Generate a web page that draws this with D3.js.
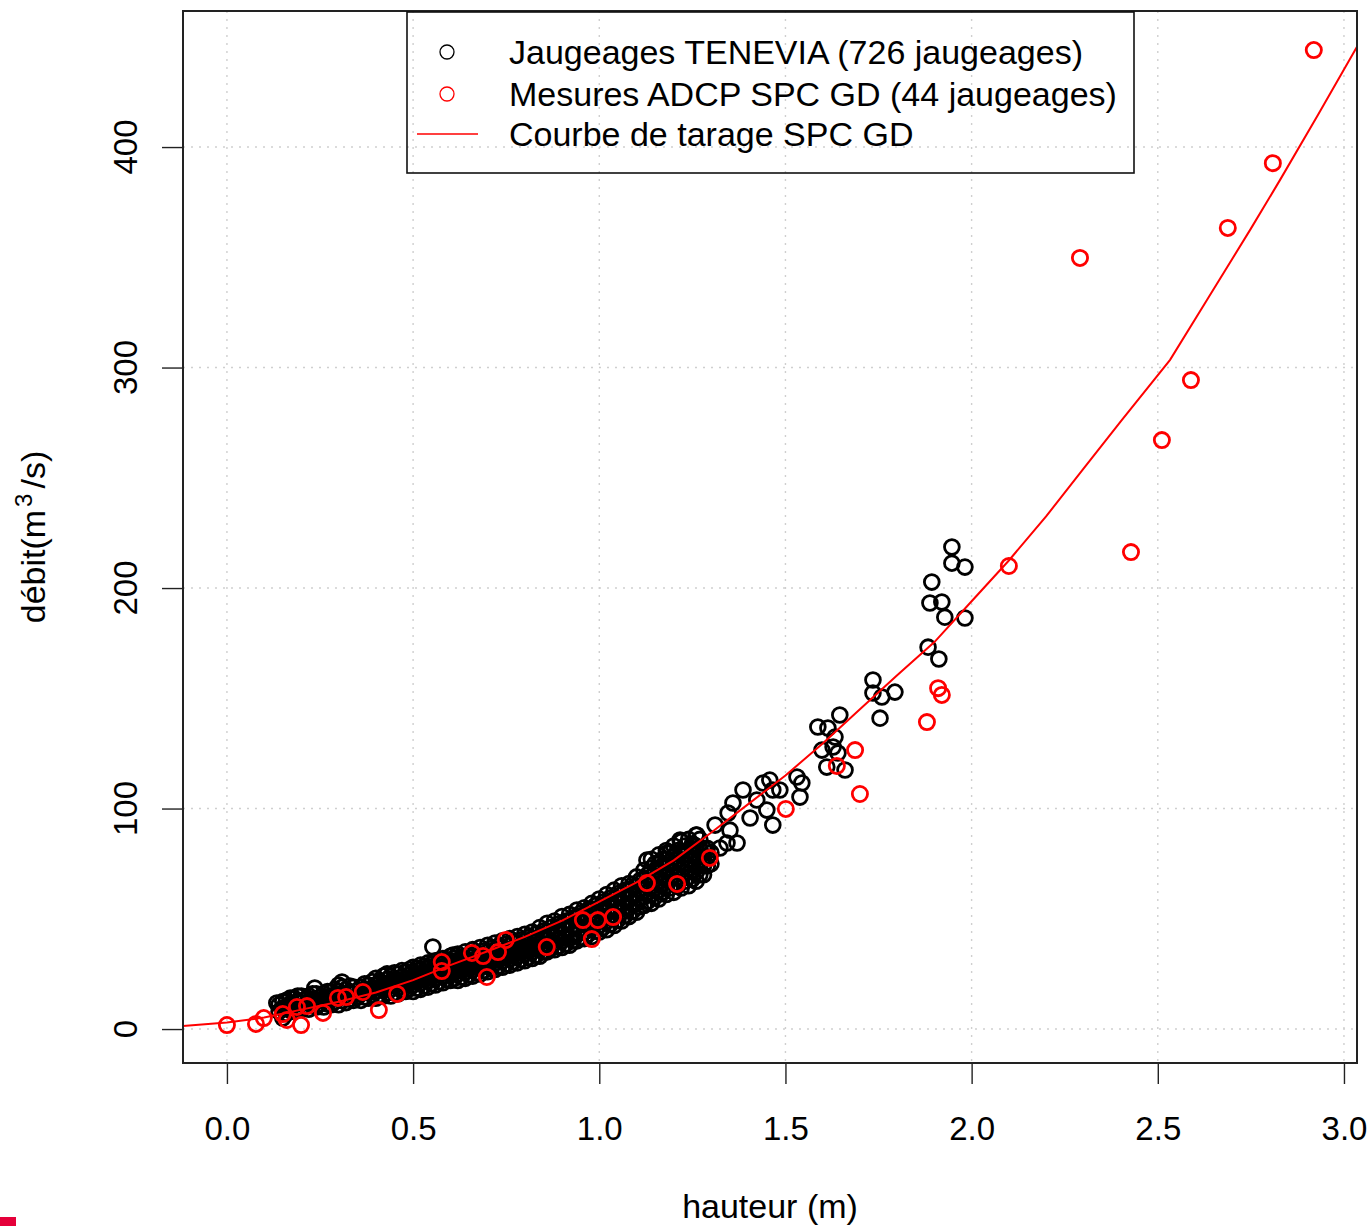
<!DOCTYPE html>
<html lang="fr">
<head>
<meta charset="utf-8">
<title>Courbe de tarage SPC GD</title>
<script src="https://cdn.jsdelivr.net/npm/d3@7"></script>
<style>
  body { margin: 0; background: #fff; }
  svg text { font-family: "Liberation Sans", Arial, sans-serif; fill: #000; }
</style>
</head>
<body>
<div id="chart"></div>
<script>
  // ---- data (hauteur m, débit m3/s) ----
  var xTicks = [0, 0.5, 1.0, 1.5, 2.0, 2.5, 3.0];
  var yTicks = [0, 100, 200, 300, 400];

  var legendLabels = [
    "Jaugeages TENEVIA (726 jaugeages)",
    "Mesures ADCP SPC GD (44 jaugeages)",
    "Courbe de tarage SPC GD"
  ];

  // dense band of TENEVIA gaugings, grouped by height
  var teneviaBand = [
    [0.14, [8, 11]], [0.15, [9.5, 12.5]], [0.16, [7, 10, 13]], [0.17, [8.5, 11.5, 14]],
    [0.18, [8, 11, 14]], [0.19, [9.5, 12.5, 15]], [0.20, [9, 12, 15]], [0.21, [10.5, 13.5]],
    [0.22, [9, 12, 15]], [0.23, [10.5, 13.5, 16]], [0.24, [10, 13, 16]], [0.25, [11.5, 14.5]],
    [0.26, [10, 13, 16]], [0.27, [11.5, 14.5, 17]], [0.28, [11, 14, 17]], [0.29, [12.5, 15.5, 18]],
    [0.30, [11, 14, 17, 20]], [0.31, [13, 16, 19]], [0.32, [12, 15, 18]], [0.33, [13.5, 16.5, 19.5]],
    [0.34, [13, 16, 19]], [0.35, [14.5, 17.5]], [0.36, [13, 16, 19]], [0.37, [14.5, 17.5, 20.5]],
    [0.38, [14, 17, 20]], [0.39, [15.5, 18.5, 21.5]], [0.40, [14, 17, 20, 23]], [0.41, [15.5, 18.5, 21.5]],
    [0.42, [15, 18, 21, 24]], [0.43, [16.5, 19.5, 22.5, 25]], [0.44, [15, 18, 21, 24]],
    [0.45, [16.5, 19.5, 22.5, 25.5]], [0.46, [16, 19, 22, 25]], [0.47, [17.5, 20.5, 23.5, 26.5]],
    [0.48, [17, 20, 23, 26]], [0.49, [18.5, 21.5, 24.5, 27]], [0.50, [17, 20, 23, 26, 28]],
    [0.51, [18.5, 21.5, 24.5, 27.5]], [0.52, [18, 21, 24, 27, 29]], [0.53, [19.5, 22.5, 25.5, 28.5]],
    [0.54, [19, 22, 25, 28, 30]], [0.55, [20.5, 23.5, 26.5, 29.5]], [0.56, [20, 23, 26, 29, 31]],
    [0.57, [21.5, 24.5, 27.5, 30.5]], [0.58, [21, 24, 27, 30, 32]], [0.59, [22.5, 25.5, 28.5, 31.5]],
    [0.60, [22, 25, 28, 31, 33]], [0.61, [23, 26, 29, 32]], [0.62, [22, 25, 28, 31, 34]],
    [0.63, [23.5, 26.5, 29.5, 32.5]], [0.64, [23, 26, 29, 32, 35]], [0.65, [24.5, 27.5, 30.5, 33.5]],
    [0.66, [24, 27, 30, 33, 36]], [0.67, [25.5, 28.5, 31.5, 34.5]], [0.68, [25, 28, 31, 34, 37]],
    [0.69, [26.5, 29.5, 32.5, 35.5]], [0.70, [26, 29, 32, 35, 38]], [0.71, [27.5, 30.5, 33.5, 36.5]],
    [0.72, [27, 30, 33, 36, 39]], [0.73, [28.5, 31.5, 34.5, 37.5]], [0.74, [28, 31, 34, 37, 40]],
    [0.75, [29.5, 32.5, 35.5, 38.5]], [0.76, [29, 32, 35, 38, 41]], [0.77, [30.5, 33.5, 36.5, 39.5]],
    [0.78, [30, 33, 36, 39, 42]], [0.79, [31.5, 34.5, 37.5, 40.5]], [0.80, [31, 34, 37, 40, 43]],
    [0.81, [32.5, 35.5, 38.5, 41.5]], [0.82, [32, 35, 38, 41, 44]], [0.83, [33.5, 36.5, 39.5, 43]],
    [0.84, [33, 36, 39, 42, 46]], [0.85, [35, 38, 41, 44.5]], [0.86, [35, 38, 41, 44, 48]],
    [0.87, [36.5, 39.5, 42.5, 46]], [0.88, [36, 39, 42, 45, 49]], [0.89, [37.5, 40.5, 43.5, 47.5]],
    [0.90, [37, 40, 43, 47, 51]], [0.91, [38.5, 41.5, 45, 49]], [0.92, [38, 41, 45, 49, 52]],
    [0.93, [40, 43, 47, 50.5]], [0.94, [40, 43, 47, 51, 54]], [0.95, [41.5, 45, 49, 52.5]],
    [0.96, [41, 44, 48, 52, 55]], [0.97, [43, 46.5, 50.5, 54]], [0.98, [42, 46, 50, 54, 57]],
    [0.99, [44.5, 48, 52, 56]], [1.00, [44, 47, 51, 55, 59]], [1.01, [46, 49.5, 53.5, 57.5]],
    [1.02, [45, 49, 53, 57, 61]], [1.03, [47.5, 51.5, 55.5, 59.5]], [1.04, [47, 51, 55, 59, 63]],
    [1.05, [49.5, 53.5, 57.5, 61.5]], [1.06, [49, 53, 57, 61, 65]], [1.07, [51.5, 55.5, 59.5, 63]],
    [1.08, [51, 55, 59, 63, 66]], [1.09, [53.5, 57.5, 61.5, 65.5]], [1.10, [53, 57, 61, 65, 69]],
    [1.11, [55.5, 59.5, 63.5, 67.5]], [1.12, [56, 60, 64, 68, 72]], [1.13, [58, 62, 66, 70]],
    [1.14, [57, 61, 65, 69, 73, 77]], [1.15, [60, 64, 68, 72, 75]], [1.16, [59, 63, 67, 71, 75, 79]],
    [1.17, [62, 66, 70, 74, 77]], [1.18, [61, 65, 69, 73, 77, 81]], [1.19, [64, 68, 72, 76, 80]],
    [1.20, [62, 66, 70, 74, 78, 83]], [1.21, [65, 69, 73, 77, 81]], [1.22, [64, 68, 72, 76, 80, 85]],
    [1.23, [67, 71, 75, 79, 83]], [1.24, [65, 69, 73, 77, 81, 86]], [1.25, [68, 72, 76, 80, 84]],
    [1.26, [67, 71, 75, 79, 83, 88]], [1.27, [70, 74, 78, 82, 86]], [1.28, [70, 74, 78, 82]],
    [1.29, [74, 78, 82]], [1.30, [75, 80]]
  ];

  // scattered TENEVIA gaugings
  var teneviaSparse = [
    [0.134, 11.8], [0.150, 5.0], [0.236, 18.6], [0.309, 21.3], [0.553, 37.2], [0.607, 33.6],
    [1.128, 76.6], [1.182, 79.8], [1.217, 85.7], [1.244, 76.6], [1.262, 88.0], [1.311, 92.5],
    [1.324, 82.1], [1.343, 84.4], [1.370, 84.4], [1.351, 90.2], [1.346, 98.0], [1.359, 102.5],
    [1.386, 108.4], [1.405, 95.7], [1.423, 103.9], [1.440, 111.6], [1.450, 99.3], [1.458, 112.9],
    [1.466, 108.4], [1.466, 92.5], [1.485, 108.4], [1.531, 114.3], [1.544, 111.6], [1.539, 105.2],
    [1.587, 137.0], [1.614, 136.5], [1.646, 142.4], [1.633, 132.4], [1.598, 126.5], [1.628, 127.9],
    [1.641, 125.2], [1.611, 118.8], [1.660, 117.5], [1.735, 158.3], [1.735, 152.4], [1.759, 150.6],
    [1.794, 152.8], [1.754, 141.0], [1.883, 173.2], [1.912, 167.8], [1.888, 193.2], [1.920, 193.7],
    [1.928, 186.8], [1.982, 186.4], [1.893, 202.7], [1.947, 218.6], [1.947, 211.3], [1.982, 209.5]
  ];

  // ADCP SPC GD measurements (44)
  var mesuresAdcp = [
    [0.000, 1.8], [0.078, 2.3], [0.099, 5.0], [0.161, 4.1], [0.150, 6.8], [0.199, 1.8],
    [0.188, 10.0], [0.215, 10.4], [0.258, 7.3], [0.298, 14.1], [0.320, 14.5], [0.365, 16.8],
    [0.408, 8.6], [0.457, 15.9], [0.577, 30.4], [0.577, 26.3], [0.658, 34.5], [0.688, 33.1],
    [0.698, 23.6], [0.728, 34.9], [0.749, 40.4], [0.859, 37.2], [0.956, 49.4], [0.996, 49.4],
    [0.980, 40.8], [1.037, 50.8], [1.128, 66.2], [1.209, 65.8], [1.297, 77.6], [1.501, 99.8],
    [1.638, 119.3], [1.687, 126.5], [1.700, 106.6], [1.880, 139.2], [1.910, 154.6], [1.920, 151.5],
    [2.100, 210.0], [2.291, 349.7], [2.428, 216.3], [2.511, 267.1], [2.589, 294.3], [2.688, 363.3],
    [2.809, 392.7], [2.919, 444.0]
  ];

  // rating curve SPC GD
  var courbeTarage = [
    [-0.12, 1.4], [0.0, 3.0], [0.1, 5.2], [0.2, 8.8], [0.3, 12.4], [0.4, 16.6], [0.5, 22.2],
    [0.6, 29.0], [0.7, 35.3], [0.8, 41.8], [0.9, 49.2], [1.0, 57.8], [1.1, 66.5], [1.2, 76.5],
    [1.3, 89.0], [1.4, 102.0], [1.5, 115.0], [1.6, 129.5], [1.7, 145.0], [1.8, 160.5],
    [1.9, 175.5], [2.0, 194.0], [2.1, 212.5], [2.2, 232.5], [2.3, 254.0], [2.4, 275.5],
    [2.533, 303.5], [2.632, 330.6], [2.75, 363.0], [2.828, 385.0], [2.93, 414.5], [3.035, 445.5]
  ];

  // ---- layout ----
  var W = 1372, H = 1226;
  var box = { left: 183, right: 1357, top: 11, bottom: 1063 };

  var svg = d3.select("#chart").append("svg")
    .attr("width", W)
    .attr("height", H);

  var x = d3.scaleLinear().domain([-0.118, 3.035]).range([box.left, box.right]);
  var y = d3.scaleLinear().domain([-15.4, 461.7]).range([box.bottom, box.top]);

  svg.append("clipPath").attr("id", "plotClip")
    .append("rect")
    .attr("x", box.left).attr("y", box.top)
    .attr("width", box.right - box.left).attr("height", box.bottom - box.top);

  // grid (dotted light gray)
  var grid = svg.append("g").attr("stroke", "#cfcfcf").attr("stroke-width", 1.4)
    .attr("stroke-dasharray", "2,6");
  grid.selectAll(".gx").data(xTicks).enter().append("line")
    .attr("x1", function(d) { return x(d); }).attr("x2", function(d) { return x(d); })
    .attr("y1", box.top).attr("y2", box.bottom);
  grid.selectAll(".gy").data(yTicks).enter().append("line")
    .attr("x1", box.left).attr("x2", box.right)
    .attr("y1", function(d) { return y(d); }).attr("y2", function(d) { return y(d); });

  // axes
  var xAxis = svg.append("g")
    .attr("transform", "translate(0," + box.bottom + ")")
    .call(d3.axisBottom(x).tickValues(xTicks).tickFormat(d3.format(".1f")).tickSize(21).tickPadding(33));
  xAxis.select(".domain").remove();
  xAxis.selectAll("line").attr("stroke", "#222").attr("stroke-width", 1.4);
  xAxis.selectAll("text").attr("font-size", 33).attr("font-family", "Liberation Sans, Arial, sans-serif").attr("fill", "#000");

  var yAxis = svg.append("g")
    .attr("transform", "translate(" + box.left + ",0)")
    .call(d3.axisLeft(y).tickValues(yTicks).tickSize(21).tickFormat(""));
  yAxis.select(".domain").remove();
  yAxis.selectAll("line").attr("stroke", "#222").attr("stroke-width", 1.4);

  svg.append("g").selectAll("text").data(yTicks).enter().append("text")
    .attr("x", 137)
    .attr("y", function(d) { return y(d); })
    .attr("transform", function(d) { return "rotate(-90,137," + y(d) + ")"; })
    .attr("text-anchor", "middle")
    .attr("font-size", 33)
    .text(function(d) { return d; });

  // axis titles
  svg.append("text")
    .attr("x", (box.left + box.right) / 2)
    .attr("y", 1218)
    .attr("text-anchor", "middle")
    .attr("font-size", 34)
    .text("hauteur (m)");

  var yTitle = svg.append("text")
    .attr("x", 45).attr("y", 537)
    .attr("transform", "rotate(-90,45,537)")
    .attr("text-anchor", "middle")
    .attr("font-size", 34);
  yTitle.append("tspan").text("débit(m");
  yTitle.append("tspan").attr("font-size", 24).attr("dx", 3).attr("dy", -13).text("3");
  yTitle.append("tspan").attr("dx", 5).attr("dy", 13).text("/s)");

  // points
  var plot = svg.append("g").attr("clip-path", "url(#plotClip)");

  var tenevia = [];
  teneviaBand.forEach(function(col) {
    col[1].forEach(function(q) { tenevia.push([col[0], q]); });
  });
  tenevia = tenevia.concat(teneviaSparse);

  plot.append("g").selectAll("circle").data(tenevia).enter().append("circle")
    .attr("cx", function(d) { return x(d[0]); })
    .attr("cy", function(d) { return y(d[1]); })
    .attr("r", 7.4)
    .attr("fill", "none")
    .attr("stroke", "#000")
    .attr("stroke-width", 2.8);

  plot.append("g").selectAll("circle").data(mesuresAdcp).enter().append("circle")
    .attr("cx", function(d) { return x(d[0]); })
    .attr("cy", function(d) { return y(d[1]); })
    .attr("r", 7.6)
    .attr("fill", "none")
    .attr("stroke", "#ff0000")
    .attr("stroke-width", 2.8);

  var line = d3.line()
    .x(function(d) { return x(d[0]); })
    .y(function(d) { return y(d[1]); });

  plot.append("path")
    .datum(courbeTarage)
    .attr("d", line)
    .attr("fill", "none")
    .attr("stroke", "#ff0000")
    .attr("stroke-width", 2);

  // plot box
  svg.append("rect")
    .attr("x", box.left).attr("y", box.top)
    .attr("width", box.right - box.left).attr("height", box.bottom - box.top)
    .attr("fill", "none")
    .attr("stroke", "#222")
    .attr("stroke-width", 2);

  // legend
  var leg = svg.append("g");
  leg.append("rect")
    .attr("x", 407).attr("y", 12)
    .attr("width", 727).attr("height", 161)
    .attr("fill", "none")
    .attr("stroke", "#111")
    .attr("stroke-width", 1.6);

  var rowY = [52, 94, 134];
  leg.append("circle").attr("cx", 447).attr("cy", rowY[0]).attr("r", 7)
    .attr("fill", "none").attr("stroke", "#000").attr("stroke-width", 1.3);
  leg.append("circle").attr("cx", 447).attr("cy", rowY[1]).attr("r", 7)
    .attr("fill", "none").attr("stroke", "#ff0000").attr("stroke-width", 1.3);
  leg.append("line").attr("x1", 417).attr("x2", 478).attr("y1", rowY[2]).attr("y2", rowY[2])
    .attr("stroke", "#ff0000").attr("stroke-width", 1.6);

  leg.selectAll(".lt").data(legendLabels).enter().append("text")
    .attr("x", 509)
    .attr("y", function(d, i) { return rowY[i] + 12; })
    .attr("font-size", 34)
    .text(function(d) { return d; });

  // small red mark in bottom-left corner of the reference
  svg.append("rect")
    .attr("x", 0).attr("y", 1217)
    .attr("width", 16).attr("height", 9)
    .attr("fill", "#e5003a");
</script>
</body>
</html>
